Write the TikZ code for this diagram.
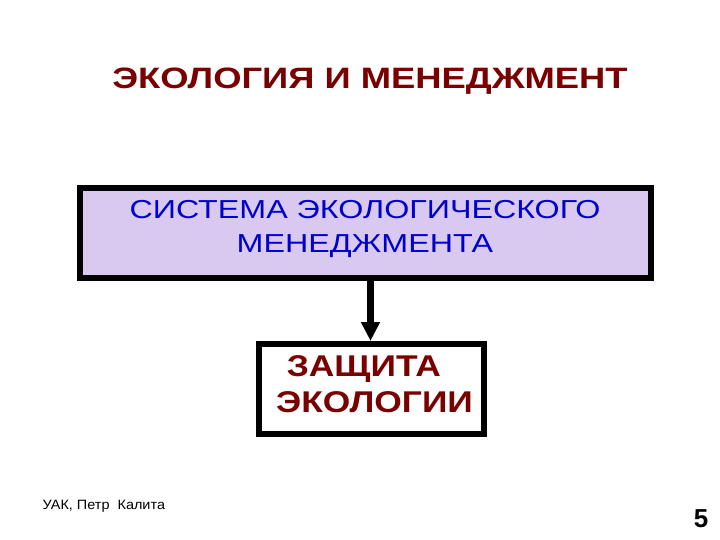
\documentclass[tikz,border=0pt]{standalone}
\usepackage{fontspec}
\setmainfont{Liberation Sans}
\usetikzlibrary{arrows.meta}
\definecolor{darkred}{HTML}{7A0000}
\definecolor{lav}{HTML}{D9C8EF}
\definecolor{tblue}{HTML}{0000CC}
\begin{document}
\begin{tikzpicture}[x=1pt,y=-1pt,
  box/.style={draw=black,line width=6pt,inner sep=0pt,anchor=north west},
  conn/.style={line width=7pt,-{Triangle[length=19pt,width=18pt]}}]
\useasboundingbox (0,0) rectangle (720,540);
\fill[white] (0,0) rectangle (720,540);
\node[anchor=base,inner sep=0pt,font=\bfseries\fontsize{29.5}{35}\selectfont,text=darkred] (title) at (370,88.5) {\scalebox{1.233}[1]{ЭКОЛОГИЯ И МЕНЕДЖМЕНТ}};
\node[box,fill=lav,minimum width=571pt,minimum height=90pt] (sys) at (77,185) {};
\node[inner sep=0pt,text=tblue,font=\fontsize{26}{33.5}\selectfont] (systext) at (365,229) {\scalebox{1.24}[1]{\begin{tabular}{@{}c@{}}СИСТЕМА ЭКОЛОГИЧЕСКОГО\\МЕНЕДЖМЕНТА\end{tabular}}};
\node[box,fill=white,minimum width=225pt,minimum height=90pt] (prot) at (256,341) {};
\node[inner sep=0pt,text=darkred,font=\bfseries\fontsize{30}{35.5}\selectfont] (prottext) at (374.5,387.2) {\scalebox{1.18}[1]{\begin{tabular}{@{}c@{}}ЗАЩИТА\hspace*{0.6em}\\ЭКОЛОГИИ\end{tabular}}};
\draw[conn] (sys.south -| 370.5,0) -- (prot.north -| 370.5,0);
\node[anchor=base west,inner sep=0pt,font=\fontsize{13.5}{16}\selectfont] (foot) at (42.5,509) {\scalebox{1.07}[1]{УАК, Петр\ \ Калита}};
\node[anchor=base,inner sep=0pt,font=\bfseries\fontsize{26}{30}\selectfont] (num) at (701,527) {5};
\end{tikzpicture}
\end{document}
